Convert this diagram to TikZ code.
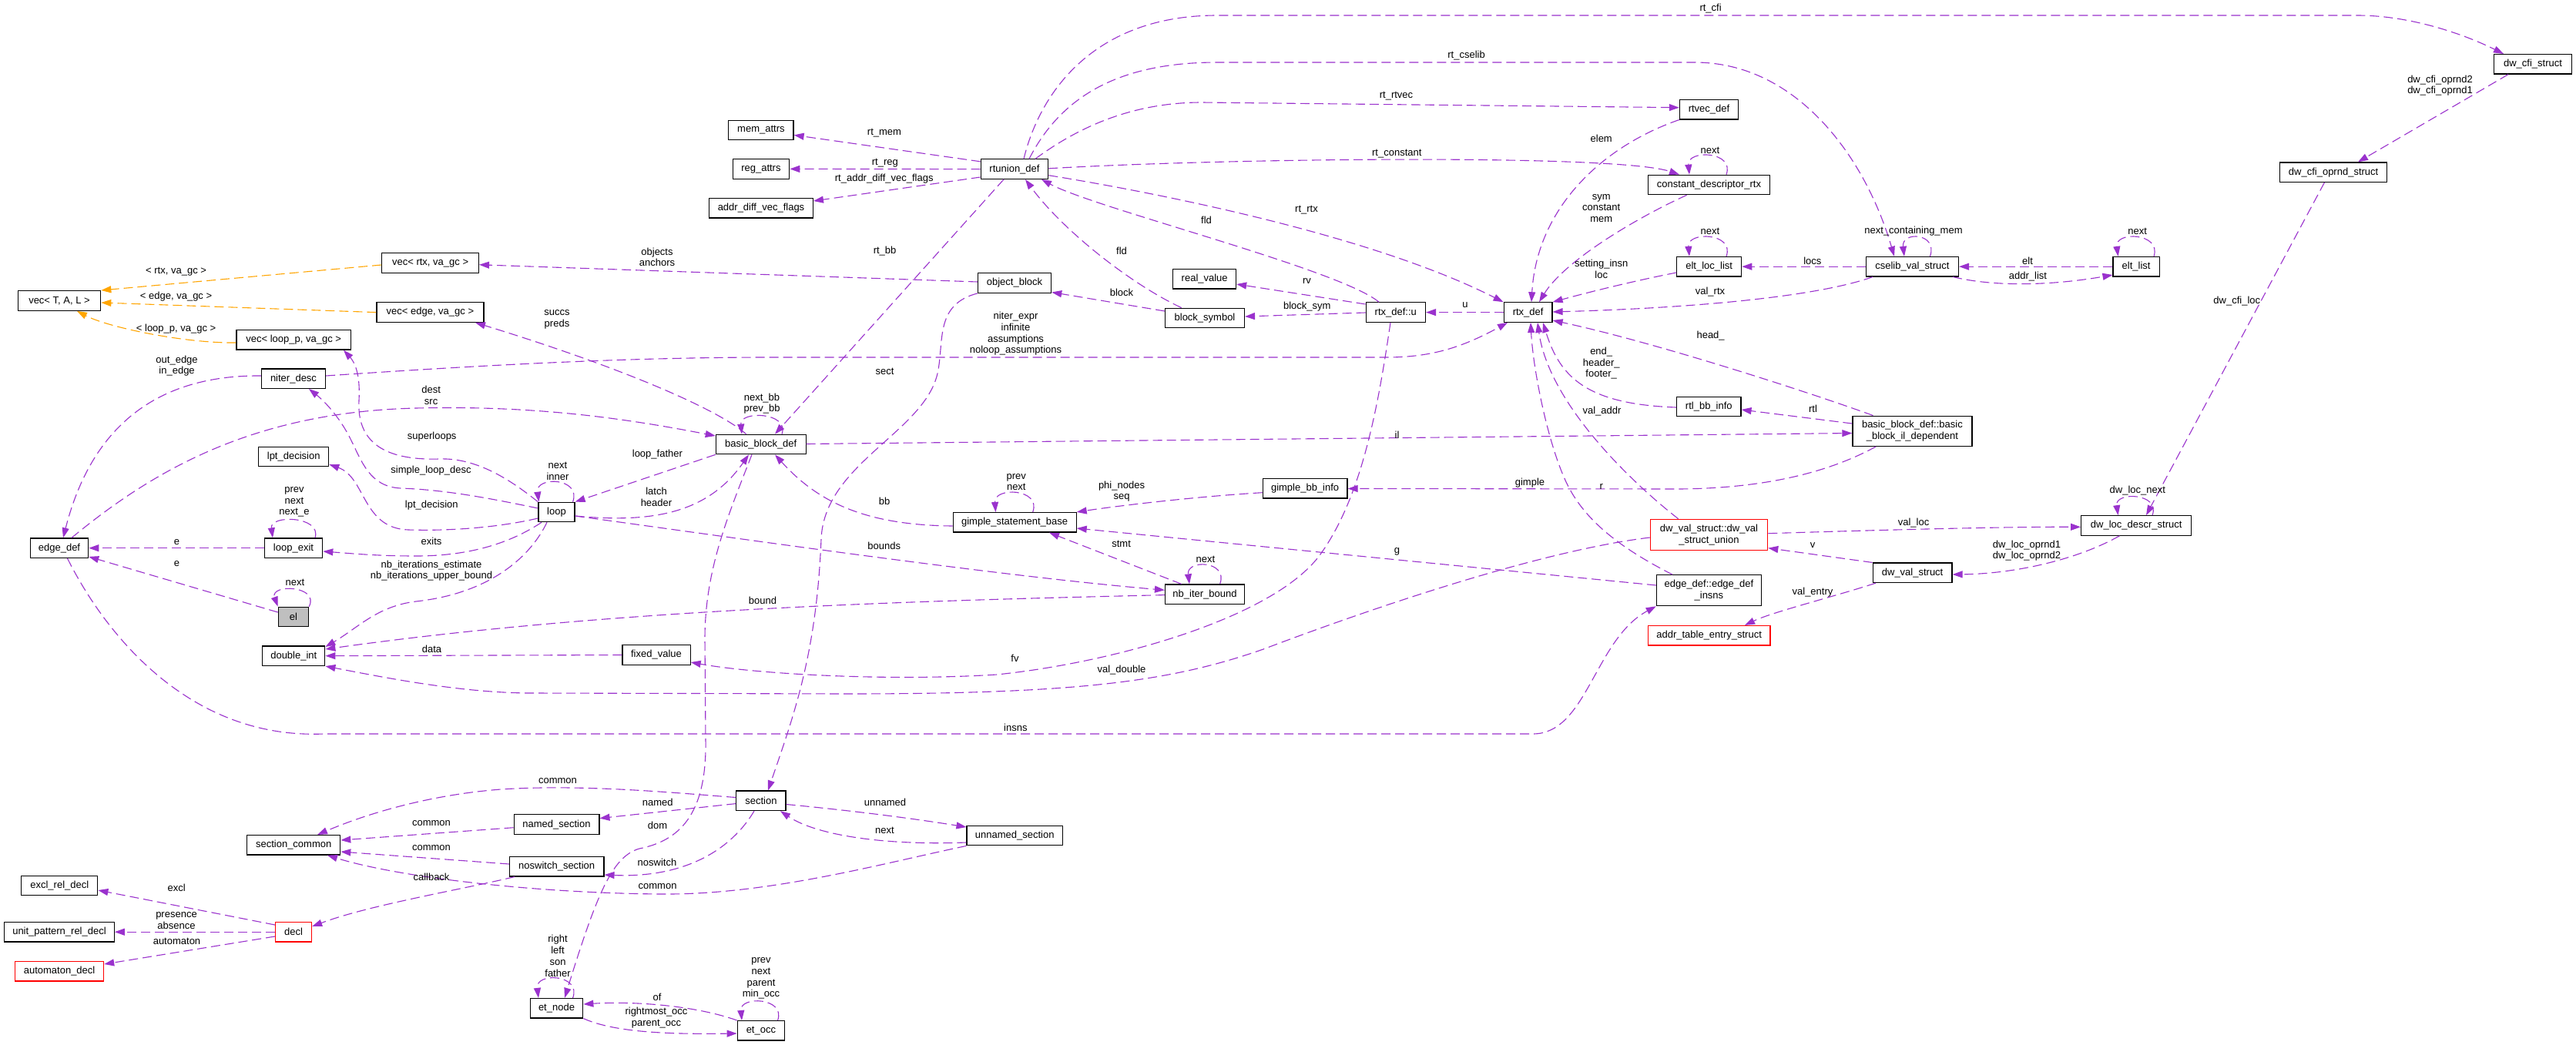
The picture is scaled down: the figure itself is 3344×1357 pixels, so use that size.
\documentclass[tikz,border=0pt]{standalone}
\usepackage{fontspec}
\setmainfont{Liberation Sans}
\usetikzlibrary{arrows.meta}
\definecolor{purp}{HTML}{9A32CD}
\definecolor{orng}{HTML}{FFA500}
\definecolor{gry}{HTML}{BFBFBF}
\newcommand\fs{\fontsize{13}{14.7}\selectfont}
\begin{document}
\begin{tikzpicture}[x=1pt,y=-1pt,
 box/.style={draw=black,line width=1.2pt,fill=white,inner sep=0pt,minimum height=25.5pt,font=\fs,align=center},
 rbox/.style={box,draw=red},
 lab/.style={inner sep=0pt,align=center,font=\fs},
 ed/.style={draw=purp,line width=1.1pt,dash pattern=on 12pt off 6pt,-{Triangle[length=13pt,width=9pt]}},
 eo/.style={ed,draw=orng}]
\fill[white] (0,0) rectangle (3344,1357);
\useasboundingbox (0,0) rectangle (3344,1357);
% ---------- nodes ----------
\node[box,minimum width=107.5pt] (vecTAL) at (77,390.6) {vec< T, A, L >};
\node[box,minimum width=125.7pt] (vecrtx) at (558.6,341.5) {vec< rtx, va\_gc >};
\node[box,minimum width=139pt] (vecedge) at (558.4,405.6) {vec< edge, va\_gc >};
\node[box,minimum width=148.3pt] (vecloop) at (381.2,441.3) {vec< loop\_p, va\_gc >};
\node[box,minimum width=83.2pt] (niterdesc) at (381,491.7) {niter\_desc};
\node[box,minimum width=91pt] (lptdecision) at (381.2,593.1) {lpt\_decision};
\node[box,minimum width=75.3pt] (edgedef) at (77,711.7) {edge\_def};
\node[box,minimum width=75.4pt] (loopexit) at (381,711.7) {loop\_exit};
\node[box,minimum width=39.3pt,fill=gry] (el) at (381,801) {el};
\node[box,minimum width=81pt] (doubleint) at (381.3,851.7) {double\_int};
\node[box,minimum width=121pt] (seccommon) at (381.2,1097.3) {section\_common};
\node[box,minimum width=99pt] (exclrel) at (77.3,1150) {excl\_rel\_decl};
\node[box,minimum width=142.5pt] (unitpat) at (77,1210.2) {unit\_pattern\_rel\_decl};
\node[rbox,minimum width=115pt] (automaton) at (77.1,1261.2) {automaton\_decl};
\node[rbox,minimum width=47.1pt] (decl) at (381,1210.2) {decl};
\node[box,minimum width=84.3pt] (memattrs) at (987.9,169) {mem\_attrs};
\node[box,minimum width=73.5pt] (regattrs) at (987.9,219.4) {reg\_attrs};
\node[box,minimum width=134.7pt] (addrdiff) at (988,270.3) {addr\_diff\_vec\_flags};
\node[box,minimum width=116.8pt] (bbd) at (987.7,577) {basic\_block\_def};
\node[box,minimum width=47.1pt] (loop) at (722.5,665) {loop};
\node[box,minimum width=88.2pt] (fixedvalue) at (852,850.5) {fixed\_value};
\node[box,minimum width=64.3pt] (section) at (987.9,1039.8) {section};
\node[box,minimum width=110.8pt] (namedsec) at (722.5,1070.6) {named\_section};
\node[box,minimum width=122.5pt] (noswitch) at (722.7,1125.2) {noswitch\_section};
\node[box,minimum width=68.6pt] (etnode) at (722.5,1309.2) {et\_node};
\node[box,minimum width=61.4pt] (etocc) at (987.9,1338.3) {et\_occ};
\node[box,minimum width=87.5pt] (rtunion) at (1317,219.6) {rtunion\_def};
\node[box,minimum width=95.3pt] (objblock) at (1317,367.6) {object\_block};
\node[box,minimum width=81.7pt] (realvalue) at (1563.7,362.3) {real\_value};
\node[box,minimum width=102.9pt] (blocksym) at (1564,412.9) {block\_symbol};
\node[box,minimum width=160pt] (gsb) at (1317.1,678.3) {gimple\_statement\_base};
\node[box,minimum width=102.9pt] (nbiter) at (1564,771.7) {nb\_iter\_bound};
\node[box,minimum width=124.3pt] (unnamedsec) at (1317.2,1085.1) {unnamed\_section};
\node[box,minimum width=77.4pt] (rtxu) at (1811.8,405.6) {rtx\_def::u};
\node[box,minimum width=62.8pt] (rtxdef) at (1983.6,405.6) {rtx\_def};
\node[box,minimum width=109.9pt] (gimplebb) at (1694.1,634.2) {gimple\_bb\_info};
\node[box,minimum width=76.2pt] (rtvec) at (2218.5,142.2) {rtvec\_def};
\node[box,minimum width=158.3pt] (cdr) at (2218.5,240) {constant\_descriptor\_rtx};
\node[box,minimum width=83.9pt] (eltloc) at (2218.7,346.2) {elt\_loc\_list};
\node[box,minimum width=83.2pt] (rtlbb) at (2218.3,528.1) {rtl\_bb\_info};
\node[rbox,minimum width=152.4pt,minimum height=40pt] (dwunion) at (2218.5,694.3) {dw\_val\_struct::dw\_val\\\_struct\_union};
\node[box,minimum width=136.1pt,minimum height=40pt] (edgeinsns) at (2218.4,766.7) {edge\_def::edge\_def\\\_insns};
\node[rbox,minimum width=158.7pt] (addrtable) at (2218.6,825.3) {addr\_table\_entry\_struct};
\node[box,minimum width=120.2pt] (cselib) at (2482.4,346.2) {cselib\_val\_struct};
\node[box,minimum width=155pt,minimum height=39.3pt] (bbdil) at (2482.4,559.8) {basic\_block\_def::basic\\\_block\_il\_dependent};
\node[box,minimum width=143.2pt] (dwloc) at (2773.2,682.4) {dw\_loc\_descr\_struct};
\node[box,minimum width=102.8pt] (dwval) at (2482.6,743.8) {dw\_val\_struct};
\node[box,minimum width=60.1pt] (eltlist) at (2773.1,346.2) {elt\_list};
\node[box,minimum width=100.5pt] (dwcfi) at (3288,83.3) {dw\_cfi\_struct};
\node[box,minimum width=139pt] (dwcfiop) at (3029.1,223.7) {dw\_cfi\_oprnd\_struct};
% ---------- orange edges ----------
\draw[eo] (vecrtx.west |- 0,344) -- (vecTAL.east |- 0,377);
\draw[eo] (vecedge.west) -- (vecTAL.east |- 0,393);
\draw[eo] (vecloop.west |- 0,445) .. controls (240,446) and (140,425) .. (vecTAL.south -| 100,0);
% ---------- purple edges ----------
\draw[ed] (niterdesc.west |- 0,488) .. controls (230,487) and (125,530) .. (edgedef.north -| 82,0);
\draw[ed] (edgedef.north -| 93,0) .. controls (200,610) and (330,535) .. (540,530) .. controls (700,526) and (820,545) .. (bbd.west |- 0,566);
\draw[ed] (loop.north west) .. controls (665,625) and (620,594) .. (570,596) .. controls (500,598) and (463,575) .. (466,520) .. controls (468,485) and (460,470) .. (vecloop.south -| 446,0);
\draw[ed] (loop.west |- 0,660) .. controls (640,648) and (580,636) .. (520,634) .. controls (480,632) and (470,600) .. (455,570) .. controls (440,540) and (420,520) .. (niterdesc.south -| 401,0);
\draw[ed] (loop.west |- 0,673) .. controls (660,682) and (600,690) .. (530,688) .. controls (470,686) and (475,620) .. (lptdecision.east |- 0,603);
\draw[ed] (loop.south -| 703,0) .. controls (670,700) and (620,722) .. (540,722) .. controls (490,722) and (460,719) .. (loopexit.east |- 0,716);
\draw[ed] (loop.south -| 710,0) .. controls (690,720) and (640,770) .. (540,781) .. controls (490,787) and (465,815) .. (doubleint.east |- 0,840);
\draw[ed] (fixedvalue.west) -- (doubleint.east);
\draw[ed] (nbiter.west |- 0,772.6) .. controls (1200,780) and (800,790) .. (doubleint.east |- 0,843);
\draw[ed] (rtxu.south -| 1805,0) .. controls (1790,520) and (1770,640) .. (1716,717) .. controls (1660,800) and (1450,860) .. (1294,876) .. controls (1150,885) and (980,875) .. (fixedvalue.east |- 0,860);
\draw[ed] (dwunion.west |- 0,698) .. controls (2000,715) and (1780,790) .. (1640,843) .. controls (1520,885) and (1400,901) .. (1100,901) -- (690,900) .. controls (600,900) and (500,880) .. (doubleint.south east);
\draw[ed] (edgedef.south -| 87.5,0) .. controls (140,830) and (250,960) .. (420,953) -- (1990,953) .. controls (2060,953) and (2070,830) .. (edgeinsns.south west);
\draw[ed] (loopexit.west) -- (edgedef.east);
\draw[ed] (el) -- (edgedef);
\draw[ed] (loopexit.north -| 409,0) .. controls (418,670) and (350,668) .. (loopexit.north -| 354,0);
\draw[ed] (el.north east) .. controls (415,760) and (350,758) .. (el.north west);
\draw[ed] (section.west |- 0,1035.5) .. controls (880,1030) and (760,1018) .. (650,1025) .. controls (560,1032) and (480,1055) .. (seccommon.north -| 412,0);
\draw[ed] (namedsec.west |- 0,1074.7) -- (seccommon.east |- 0,1091);
\draw[ed] (noswitch.west |- 0,1122) -- (seccommon.east |- 0,1106);
\draw[ed] (unnamedsec.south west) .. controls (1150,1120) and (1000,1162) .. (860,1161) .. controls (700,1160) and (520,1140) .. (seccommon.south -| 425,0);
\draw[ed] (noswitch.south -| 668,0) .. controls (600,1155) and (480,1175) .. (decl.east |- 0,1203);
\draw[ed] (section.south -| 979,0) .. controls (945,1110) and (880,1140) .. (noswitch.east |- 0,1136);
\draw[ed] (section.west |- 0,1043.6) -- (namedsec.east |- 0,1062.6);
\draw[ed] (bbd.south -| 976,0) .. controls (945,670) and (915,740) .. (915,830) -- (916,960) .. controls (918,1060) and (880,1092) .. (830,1102) .. controls (795,1112) and (775,1160) .. (etnode.north -| 733,0);
\draw[ed] (etnode.north -| 743.6,0) .. controls (755,1265) and (695,1262) .. (etnode.north -| 699,0);
\draw[ed] (etocc.north west) .. controls (900,1305) and (820,1300) .. (etnode.east |- 0,1304);
\draw[ed] (etnode.south east) .. controls (800,1342) and (880,1343) .. (etocc.west |- 0,1342);
\draw[ed] (etocc.north -| 1009.6,0) .. controls (1020,1295) and (960,1293) .. (etocc.north -| 963,0);
\draw[ed] (section.east |- 0,1044.5) .. controls (1100,1052) and (1180,1062) .. (unnamedsec.west |- 0,1074);
\draw[ed] (unnamedsec.west |- 0,1094) .. controls (1150,1098) and (1060,1085) .. (section.south -| 1013,0);
\draw[ed] (bbd.north -| 1015,0) .. controls (1025,535) and (960,533) .. (bbd.north -| 963,0);
\draw[ed] (bbd.north -| 968.6,0) .. controls (930,530) and (800,475) .. (vecedge.south -| 617,0);
\draw[ed] (rtunion.south -| 1303,0) -- (bbd.north -| 1006,0);
\draw[ed] (bbd.east |- 0,576.5) -- (bbdil.west |- 0,562.5);
\draw[ed] (bbdil.south -| 2435,0) .. controls (2380,610) and (2300,634) .. (2180,635) -- (gimplebb.east |- 0,634.5);
\draw[ed] (edgeinsns.north -| 2171,0) .. controls (2110,715) and (2060,680) .. (2035,630) .. controls (2010,580) and (1990,480) .. (rtxdef.south -| 1987,0);
\draw[ed] (dwunion.north -| 2178.6,0) .. controls (2110,620) and (2010,520) .. (rtxdef.south -| 1996,0);
\draw[ed] (rtlbb.west |- 0,529) .. controls (2060,525) and (2025,490) .. (rtxdef.south -| 2003,0);
\draw[ed] (bbdil.north -| 2431.5,0) .. controls (2350,510) and (2150,445) .. (rtxdef.east |- 0,416);
\draw[ed] (cselib.south -| 2431,0) .. controls (2360,385) and (2200,400) .. (rtxdef.east |- 0,405);
\draw[ed] (eltloc.west |- 0,354) .. controls (2120,365) and (2060,380) .. (rtxdef.north east);
\draw[ed] (cdr.south -| 2189.6,0) .. controls (2120,285) and (2030,340) .. (rtxdef.north -| 1998,0);
\draw[ed] (rtvec.south west) .. controls (2080,190) and (1995,270) .. (rtxdef.north -| 1988,0);
\draw[ed] (rtxdef.west) -- (rtxu.east);
\draw[ed] (rtunion.east |- 0,227.7) .. controls (1500,250) and (1780,305) .. (rtxdef.north west);
\draw[ed] (rtxu.north -| 1790,0) .. controls (1740,350) and (1420,270) .. (rtunion.south -| 1352,0);
\draw[ed] (blocksym.north -| 1533.6,0) .. controls (1470,370) and (1380,300) .. (rtunion.south -| 1331,0);
\draw[ed] (rtunion.east |- 0,218.8) .. controls (1600,205) and (2100,200) .. (cdr.north -| 2180,0);
\draw[ed] (rtunion.north -| 1344,0) .. controls (1400,165) and (1470,133) .. (1560,133) -- (rtvec.west |- 0,139.7);
\draw[ed] (rtunion.north -| 1336,0) .. controls (1380,120) and (1460,81) .. (1580,81) -- (2200,81) .. controls (2330,81) and (2420,200) .. (cselib.north -| 2459,0);
\draw[ed] (rtunion.north -| 1329,0) .. controls (1350,120) and (1420,20) .. (1580,20) -- (3060,20) .. controls (3130,20) and (3200,45) .. (dwcfi.north -| 3250,0);
\draw[ed] (rtunion.west |- 0,209.8) -- (memattrs.east |- 0,175.4);
\draw[ed] (rtunion.west) -- (regattrs.east);
\draw[ed] (rtunion.west |- 0,230) -- (addrdiff.east |- 0,261);
\draw[ed] (objblock.west |- 0,366) -- (vecrtx.east |- 0,343.75);
\draw[ed] (blocksym.west |- 0,404) -- (objblock.east |- 0,379.5);
\draw[ed] (objblock.south west) .. controls (1215,395) and (1225,440) .. (1218,480) .. controls (1205,560) and (1070,600) .. (1066,700) .. controls (1060,850) and (1030,930) .. (section.north -| 997,0);
\draw[ed] (gsb.west |- 0,683) .. controls (1120,682) and (1060,650) .. (bbd.south -| 1006,0);
\draw[ed] (loop.east |- 0,670) .. controls (850,680) and (920,665) .. (bbd.south -| 972,0);
\draw[ed] (bbd.south west) -- (loop.north east);
\draw[ed] (loop.north -| 743.6,0) .. controls (755,620) and (695,618) .. (loop.north -| 699.5,0);
\draw[ed] (loop.east |- 0,670) .. controls (1000,705) and (1300,748) .. (nbiter.west |- 0,766.3);
\draw[ed] (gimplebb.west |- 0,639.7) .. controls (1550,645) and (1450,657) .. (gsb.north east);
\draw[ed] (gsb.north -| 1340.7,0) .. controls (1352,634) and (1290,632) .. (gsb.north -| 1292.5,0);
\draw[ed] (nbiter.north -| 1533.6,0) -- (gsb.south -| 1362,0);
\draw[ed] (edgeinsns.west |- 0,760) -- (gsb.east |- 0,686);
\draw[ed] (nbiter.north -| 1583.6,0) .. controls (1595,728) and (1540,726) .. (nbiter.north -| 1544,0);
\draw[ed] (rtxu.west |- 0,395) -- (realvalue.east |- 0,369);
\draw[ed] (rtxu.west |- 0,406) -- (blocksym.east |- 0,411);
\draw[ed] (niterdesc.east |- 0,488) .. controls (600,476) and (800,464) .. (1000,464) -- (1800,464) .. controls (1860,464) and (1900,450) .. (rtxdef.south -| 1957,0);
\draw[ed] (dwunion.east |- 0,692.7) .. controls (2450,688) and (2600,684) .. (dwloc.west |- 0,684.3);
\draw[ed] (dwval.north west) -- (dwunion.east |- 0,711.7);
\draw[ed] (dwval.south -| 2435,0) .. controls (2380,775) and (2300,795) .. (addrtable.north -| 2265,0);
\draw[ed] (dwloc.south -| 2751.5,0) .. controls (2700,725) and (2620,745) .. (dwval.east |- 0,746);
\draw[ed] (dwloc.north -| 2794,0) .. controls (2805,640) and (2745,638) .. (dwloc.north -| 2749.6,0);
\draw[ed] (dwcfiop.south -| 3017.4,0) -- (dwloc.north -| 2786,0);
\draw[ed] (dwcfi.south -| 3256,0) -- (dwcfiop.north -| 3061,0);
\draw[ed] (cselib.west) -- (eltloc.east);
\draw[ed] (eltloc.north -| 2241,0) .. controls (2252,302) and (2190,300) .. (eltloc.north -| 2193,0);
\draw[ed] (cdr.north -| 2241,0) .. controls (2252,196) and (2190,194) .. (cdr.north -| 2193,0);
\draw[ed] (eltlist.west) -- (cselib.east);
\draw[ed] (cselib.south -| 2535,0) .. controls (2600,375) and (2680,368) .. (eltlist.west |- 0,357);
\draw[ed] (eltlist.north -| 2796,0) .. controls (2806,302) and (2745,300) .. (eltlist.north -| 2749.6,0);
\draw[ed] (cselib.north -| 2505.5,0) .. controls (2516,302) and (2468,300) .. (cselib.north -| 2472,0);
\draw[ed] (bbdil.west |- 0,550) -- (rtlbb.east |- 0,532);
\draw[ed] (decl.west |- 0,1201) -- (exclrel.east |- 0,1156);
\draw[ed] (decl.west) -- (unitpat.east);
\draw[ed] (decl.west |- 0,1216) -- (automaton.east |- 0,1252);
% ---------- labels ----------
\node[lab] (t1) at (228.6,352.7) {< rtx, va\_gc >};
\node[lab] (t2) at (228.6,384.8) {< edge, va\_gc >};
\node[lab] (t3) at (228.6,427.2) {< loop\_p, va\_gc >};
\node[lab] (t4) at (229.6,475) {out\_edge\\in\_edge};
\node[lab] (t5) at (559.6,513.4) {dest\\src};
\node[lab] (t6) at (560.7,567) {superloops};
\node[lab] (t7) at (559.5,611.6) {simple\_loop\_desc};
\node[lab] (t8) at (560.3,656.3) {lpt\_decision};
\node[lab] (t9) at (560,702.8) {exits};
\node[lab] (t10) at (560,741) {nb\_iterations\_estimate\\nb\_iterations\_upper\_bound};
\node[lab] (t11) at (560.5,842.5) {data};
\node[lab] (t12) at (990,779.4) {bound};
\node[lab] (t13) at (1317.5,855) {fv};
\node[lab] (t14) at (1456,870) {val\_double};
\node[lab] (t15) at (1318.4,944.4) {insns};
\node[lab] (t16) at (229.6,704) {e};
\node[lab] (t17) at (229.6,732) {e};
\node[lab] (t18) at (382,651.8) {prev\\next\\next\_e};
\node[lab] (t19) at (383,756) {next};
\node[lab] (t20) at (724,1014) {common};
\node[lab] (t21) at (560,1069) {common};
\node[lab] (t22) at (560,1101) {common};
\node[lab] (t23) at (853.6,1151.4) {common};
\node[lab] (t24) at (560,1139) {callback};
\node[lab] (t25) at (853,1120) {noswitch};
\node[lab] (t26) at (853.7,1042) {named};
\node[lab] (t27) at (853.5,1071.6) {dom};
\node[lab] (t28) at (724,1241.3) {right\\left\\son\\father};
\node[lab] (t29) at (853,1294.8) {of};
\node[lab] (t30) at (852,1321.6) {rightmost\_occ\\parent\_occ};
\node[lab] (t31) at (988,1270.6) {prev\\next\\parent\\min\_occ};
\node[lab] (t32) at (1149,1042.3) {unnamed};
\node[lab] (t33) at (1148.4,1078.3) {next};
\node[lab] (t34) at (989,524) {next\_bb\\prev\_bb};
\node[lab] (t35) at (723,415) {succs\\preds};
\node[lab] (t36) at (1148.6,326.3) {rt\_bb};
\node[lab] (t37) at (1813.5,564.7) {il};
\node[lab] (t38) at (1986,627) {gimple};
\node[lab] (t39) at (2078.7,631.7) {r};
\node[lab] (t40) at (2079.5,534.4) {val\_addr};
\node[lab] (t41) at (2078.7,471.6) {end\_\\header\_\\footer\_};
\node[lab] (t42) at (2220.6,436.2) {head\_};
\node[lab] (t43) at (2220,378.6) {val\_rtx};
\node[lab] (t44) at (2078.7,349.5) {setting\_insn\\loc};
\node[lab] (t45) at (2078.7,270.4) {sym\\constant\\mem};
\node[lab] (t46) at (2078.7,179.5) {elem};
\node[lab] (t47) at (1901.9,396.4) {u};
\node[lab] (t48) at (1696,272.3) {rt\_rtx};
\node[lab] (t49) at (1566,286.2) {fld};
\node[lab] (t50) at (1456,326.3) {fld};
\node[lab] (t51) at (1813.3,199.6) {rt\_constant};
\node[lab] (t52) at (1812.5,125) {rt\_rtvec};
\node[lab] (t53) at (1903.6,72.3) {rt\_cselib};
\node[lab] (t54) at (2220.6,11.2) {rt\_cfi};
\node[lab] (t55) at (1148,172.8) {rt\_mem};
\node[lab] (t56) at (1148.8,212) {rt\_reg};
\node[lab] (t57) at (1147.7,231.7) {rt\_addr\_diff\_vec\_flags};
\node[lab] (t58) at (853,333.7) {objects\\anchors};
\node[lab] (t59) at (1456,379.5) {block};
\node[lab] (t60) at (1148.6,482.6) {sect};
\node[lab] (t61) at (1148,651.3) {bb};
\node[lab] (t62) at (852,645.5) {latch\\header};
\node[lab] (t63) at (853.4,590.6) {loop\_father};
\node[lab] (t64) at (724,612) {next\\inner};
\node[lab] (t65) at (1147.8,708.6) {bounds};
\node[lab] (t66) at (1456,638) {phi\_nodes\\seq};
\node[lab] (t67) at (1319.3,626) {prev\\next};
\node[lab] (t68) at (1455.6,706.4) {stmt};
\node[lab] (t69) at (1813.5,716) {g};
\node[lab] (t70) at (1565,726.6) {next};
\node[lab] (t71) at (1696.4,364.7) {rv};
\node[lab] (t72) at (1696.8,398) {block\_sym};
\node[lab] (t73) at (1318.5,433.5) {niter\_expr\\infinite\\assumptions\\noloop\_assumptions};
\node[lab] (t74) at (2484,679) {val\_loc};
\node[lab] (t75) at (2353,708.3) {v};
\node[lab] (t76) at (2353,769) {val\_entry};
\node[lab] (t77) at (2631,715) {dw\_loc\_oprnd1\\dw\_loc\_oprnd2};
\node[lab] (t78) at (2774.8,637) {dw\_loc\_next};
\node[lab] (t79) at (2903.8,390.6) {dw\_cfi\_loc};
\node[lab] (t80) at (3167.5,111) {dw\_cfi\_oprnd2\\dw\_cfi\_oprnd1};
\node[lab] (t81) at (2352.8,338.4) {locs};
\node[lab] (t82) at (2220,300.4) {next};
\node[lab] (t83) at (2220,195) {next};
\node[lab] (t84) at (2632,338.4) {elt};
\node[lab] (t85) at (2632.5,359.4) {addr\_list};
\node[lab] (t86) at (2774.7,300.4) {next};
\node[lab] (t87) at (2484,300.4) {next\_containing\_mem};
\node[lab] (t88) at (2353.5,531) {rtl};
\node[lab] (t89) at (229.3,1152.7) {excl};
\node[lab] (t90) at (229,1195.4) {presence\\absence};
\node[lab] (t91) at (229.5,1222.6) {automaton};
\end{tikzpicture}
\end{document}
